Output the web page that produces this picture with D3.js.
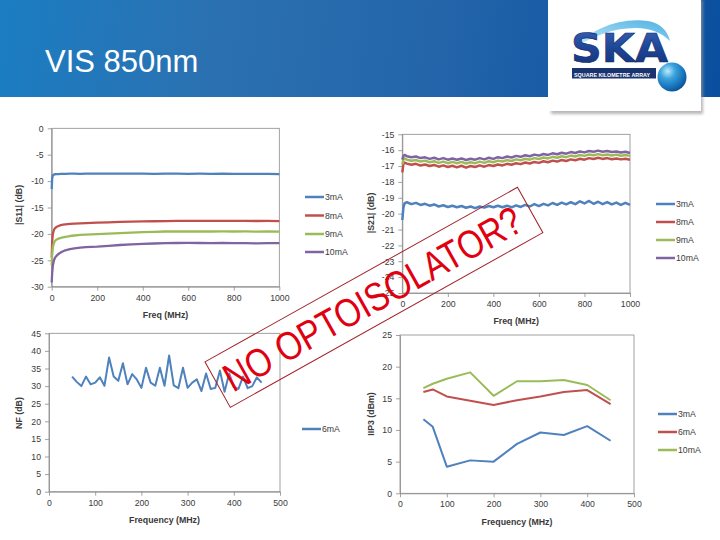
<!DOCTYPE html>
<html><head><meta charset="utf-8">
<script src="https://cdn.jsdelivr.net/npm/d3@7"></script>
<style>body{margin:0;background:#fff}svg{display:block}</style>
</head><body>
<svg id="c" width="720" height="540"></svg>
<script>
// ---------------- DATA ----------------
const TITLE = "VIS 850nm";
const STAMP = "NO OPTOISOLATOR?";

const S_SERIES_NAMES = ["3mA", "8mA", "9mA", "10mA"];
const NF_SERIES_NAMES = ["6mA"];
const IIP3_SERIES_NAMES = ["3mA", "6mA", "10mA"];

const S11_X_TICKS = [0, 200, 400, 600, 800, 1000];
const S11_Y_TICKS = [0, -5, -10, -15, -20, -25, -30];
const S21_X_TICKS = [0, 200, 400, 600, 800, 1000];
const S21_Y_TICKS = [-15, -16, -17, -18, -19, -20, -21, -22, -23, -24, -25];
const NF_X_TICKS = [0, 100, 200, 300, 400, 500];
const NF_Y_TICKS = [0, 5, 10, 15, 20, 25, 30, 35, 40, 45];
const IIP3_X_TICKS = [0, 100, 200, 300, 400, 500];
const IIP3_Y_TICKS = [0, 5, 10, 15, 20, 25];

const S11_FREQ = [0,2,5,10,15,20,30,40,50,60,80,100,125,150,175,200,250,300,350,400,450,500,550,600,650,700,750,800,850,900,950,1000];
const S11_3mA = [-11.5,-9.5,-8.9,-8.75,-8.7,-8.68,-8.66,-8.64,-8.63,-8.62,-8.6,-8.6,-8.62,-8.58,-8.6,-8.6,-8.58,-8.6,-8.59,-8.6,-8.62,-8.6,-8.6,-8.62,-8.6,-8.62,-8.61,-8.63,-8.62,-8.64,-8.63,-8.66];
const S11_8mA = [-24.5,-21.5,-20.0,-19.2,-18.9,-18.7,-18.5,-18.35,-18.25,-18.2,-18.1,-18.05,-18.0,-17.95,-17.92,-17.88,-17.8,-17.72,-17.68,-17.62,-17.6,-17.57,-17.55,-17.55,-17.54,-17.55,-17.53,-17.55,-17.54,-17.56,-17.55,-17.57];
const S11_9mA = [-26.0,-24.0,-22.5,-21.7,-21.3,-21.1,-20.9,-20.75,-20.65,-20.55,-20.4,-20.3,-20.2,-20.15,-20.1,-20.05,-19.95,-19.85,-19.75,-19.65,-19.6,-19.55,-19.55,-19.55,-19.52,-19.55,-19.53,-19.55,-19.54,-19.57,-19.55,-19.58];
const S11_10mA = [-29.2,-27.5,-26.0,-25.0,-24.5,-24.2,-23.8,-23.5,-23.3,-23.1,-22.9,-22.75,-22.6,-22.5,-22.45,-22.4,-22.25,-22.1,-22.0,-21.9,-21.82,-21.75,-21.72,-21.7,-21.72,-21.75,-21.72,-21.75,-21.73,-21.78,-21.75,-21.75];

const S21_FREQ = [0,5,10,20,40,60,80,100,120,140,160,180,200,220,240,260,280,300,320,340,360,380,400,420,440,460,480,500,520,540,560,580,600,620,640,660,680,700,720,740,760,780,800,820,840,860,880,900,920,940,960,980,1000];
const S21_3mA = [-20.4,-19.6,-19.35,-19.28,-19.40,-19.32,-19.45,-19.38,-19.50,-19.42,-19.55,-19.47,-19.58,-19.50,-19.60,-19.52,-19.63,-19.55,-19.65,-19.55,-19.62,-19.52,-19.60,-19.50,-19.60,-19.50,-19.60,-19.48,-19.58,-19.45,-19.55,-19.40,-19.52,-19.38,-19.48,-19.33,-19.45,-19.30,-19.42,-19.28,-19.40,-19.22,-19.36,-19.20,-19.38,-19.25,-19.40,-19.27,-19.42,-19.30,-19.45,-19.32,-19.45];
const S21_8mA = [-17.4,-16.85,-16.78,-16.85,-16.92,-16.86,-16.97,-16.90,-17.00,-16.93,-17.04,-16.96,-17.06,-16.98,-17.08,-16.98,-17.10,-17.00,-17.06,-16.96,-17.04,-16.94,-17.00,-16.90,-16.96,-16.86,-16.92,-16.82,-16.88,-16.78,-16.84,-16.74,-16.80,-16.70,-16.76,-16.66,-16.72,-16.62,-16.68,-16.58,-16.64,-16.54,-16.60,-16.50,-16.56,-16.48,-16.55,-16.50,-16.57,-16.52,-16.58,-16.54,-16.60];
const S21_9mA = [-16.9,-16.6,-16.52,-16.60,-16.67,-16.62,-16.72,-16.66,-16.76,-16.70,-16.80,-16.72,-16.82,-16.74,-16.82,-16.74,-16.84,-16.76,-16.82,-16.72,-16.80,-16.70,-16.76,-16.66,-16.72,-16.62,-16.68,-16.58,-16.64,-16.54,-16.60,-16.50,-16.56,-16.46,-16.52,-16.42,-16.48,-16.38,-16.44,-16.34,-16.40,-16.30,-16.36,-16.27,-16.32,-16.25,-16.32,-16.27,-16.34,-16.28,-16.35,-16.30,-16.36];
const S21_10mA = [-16.6,-16.35,-16.3,-16.38,-16.45,-16.40,-16.50,-16.45,-16.55,-16.48,-16.58,-16.50,-16.60,-16.52,-16.60,-16.52,-16.62,-16.54,-16.60,-16.50,-16.58,-16.48,-16.55,-16.44,-16.50,-16.40,-16.46,-16.36,-16.42,-16.32,-16.38,-16.28,-16.34,-16.24,-16.30,-16.20,-16.26,-16.16,-16.22,-16.12,-16.18,-16.08,-16.14,-16.05,-16.10,-16.03,-16.10,-16.05,-16.12,-16.08,-16.15,-16.10,-16.18];

const NF_FREQ = [50,60,70,80,90,100,110,120,130,140,150,160,170,180,190,200,210,220,230,240,250,260,270,280,290,300,310,320,330,340,350,360,370,380,390,400,410,420,430,440,450,460];
const NF_6mA = [32.7,31.2,30.0,32.7,30.5,31.0,32.5,30.1,38.1,32.7,31.5,36.5,30.5,33.4,31.9,29.5,35.2,31.0,30.1,35.2,30.1,38.7,30.2,29.4,35.2,29.5,31.0,31.9,28.6,33.6,29.2,29.5,34.4,28.4,33.6,29.8,29.2,32.7,29.4,30.0,32.5,31.0];

const IIP3_FREQ = [50,70,100,150,200,250,300,350,400,450];
const IIP3_3mA = [11.7,10.5,4.2,5.2,5.0,7.8,9.6,9.2,10.6,8.3];
const IIP3_6mA = [16.0,16.4,15.3,14.6,13.95,14.7,15.3,16.0,16.3,14.1];
const IIP3_10mA = [16.6,17.3,18.1,19.1,15.4,17.7,17.7,17.9,17.1,14.7];

// ---------------- STYLE ----------------
const C_BLUE = "#4f81bd", C_RED = "#c0504d", C_GREEN = "#9bbb59", C_PURPLE = "#8064a2";
const FONT = "'Liberation Sans', Arial, sans-serif";
const TXT = "#3a3a3a", AXIS = "#8a8a8a";

const svg = d3.select("#c");
const defs = svg.append("defs");

const hg = defs.append("linearGradient").attr("id", "hdr")
  .attr("gradientUnits", "userSpaceOnUse").attr("x1", 0).attr("y1", 0).attr("x2", 720).attr("y2", 97);
[["0", "#1b7dc2"], ["0.3", "#2b71b1"], ["0.6", "#2465aa"], ["1", "#0a4f9f"]]
  .forEach(([o, c]) => hg.append("stop").attr("offset", o).attr("stop-color", c));
const sg = defs.append("radialGradient").attr("id", "sph").attr("cx", "0.35").attr("cy", "0.3").attr("r", "0.75");
[["0", "#bfe9fb"], ["0.35", "#3aa3dc"], ["0.8", "#136cb5"], ["1", "#0d4f8e"]]
  .forEach(([o, c]) => sg.append("stop").attr("offset", o).attr("stop-color", c));
const skag = defs.append("linearGradient").attr("id", "ska").attr("x1", 0).attr("y1", 0).attr("x2", 0).attr("y2", 1);
[["0", "#3b66b8"], ["0.5", "#1e4596"], ["1", "#142f73"]]
  .forEach(([o, c]) => skag.append("stop").attr("offset", o).attr("stop-color", c));
const swg = defs.append("linearGradient").attr("id", "swoosh").attr("x1", 0).attr("y1", 1).attr("x2", 1).attr("y2", 0);
[["0", "#d9f1fb"], ["0.5", "#8dd0ef"], ["1", "#4fb0e2"]]
  .forEach(([o, c]) => swg.append("stop").attr("offset", o).attr("stop-color", c));
const blur = defs.append("filter").attr("id", "shadow").attr("x", "-10%").attr("y", "-10%").attr("width", "130%").attr("height", "130%");
blur.append("feGaussianBlur").attr("stdDeviation", 1.5);

// header
svg.append("rect").attr("x", 0).attr("y", 0).attr("width", 720).attr("height", 97).attr("fill", "url(#hdr)");
svg.append("text").attr("x", 45).attr("y", 72).attr("fill", "#fff")
  .attr("font-family", FONT).attr("font-size", 31).text(TITLE);

// logo box
svg.append("rect").attr("x", 551).attr("y", 0).attr("width", 152).attr("height", 114)
  .attr("fill", "#9a9a9a").attr("opacity", 0.7).attr("filter", "url(#shadow)");
svg.append("rect").attr("x", 548).attr("y", 0).attr("width", 153).attr("height", 111).attr("fill", "#fff");
const logo = svg.append("g");
logo.append("path").attr("d", "M572,50 C590,29 620,17 648,21 C660,23 668,31 670,41 C662,33 650,28 636,28 C612,28 590,37 572,50 Z")
  .attr("fill", "url(#swoosh)");
logo.append("text").attr("transform", "translate(571,62) scale(1,1.2)")
  .attr("font-family", "'DejaVu Sans', sans-serif")
  .attr("font-weight", "bold").attr("font-size", 33).attr("textLength", 97).attr("lengthAdjust", "spacingAndGlyphs")
  .attr("fill", "url(#ska)").attr("stroke", "#0f2a66").attr("stroke-width", 0.5).text("SKA");
logo.append("rect").attr("x", 572).attr("y", 68).attr("width", 84).attr("height", 10.5).attr("fill", "#1b3470");
logo.append("text").attr("x", 574).attr("y", 77).attr("font-family", FONT).attr("font-weight", "bold")
  .attr("font-size", 5.5).attr("textLength", 76).attr("lengthAdjust", "spacingAndGlyphs").attr("fill", "#fff")
  .text("SQUARE KILOMETRE ARRAY");
logo.append("circle").attr("cx", 672).attr("cy", 77).attr("r", 14.5).attr("fill", "url(#sph)");

// ---------------- CHART BUILDER ----------------
function chart(cfg) {
  const x = d3.scaleLinear().domain(cfg.xDomain).range([cfg.left, cfg.right]);
  const y = d3.scaleLinear().domain(cfg.yDomain).range([cfg.bottom, cfg.top]);
  const g = svg.append("g");
  g.append("rect").attr("x", cfg.left).attr("y", cfg.top)
    .attr("width", cfg.right - cfg.left).attr("height", cfg.bottom - cfg.top)
    .attr("fill", "none").attr("stroke", AXIS).attr("stroke-width", 0.8);
  const ax = g.append("g").attr("transform", `translate(0,${cfg.bottom})`)
    .call(d3.axisBottom(x).tickValues(cfg.xTicks).tickFormat(d => String(d)).tickSize(4).tickSizeOuter(0).tickPadding(4));
  const ay = g.append("g").attr("transform", `translate(${cfg.left},0)`)
    .call(d3.axisLeft(y).tickValues(cfg.yTicks).tickFormat(d => String(d)).tickSize(4).tickSizeOuter(0).tickPadding(4));
  [ax, ay].forEach(a => {
    a.selectAll("path,line").attr("stroke", AXIS).attr("stroke-width", 0.8);
    a.selectAll("text").attr("fill", TXT).attr("font-family", FONT).attr("font-size", 8.7);
  });
  const line = d3.line().x(d => x(d[0])).y(d => y(d[1])).curve(d3.curveLinear);
  cfg.series.forEach(s => {
    g.append("path").datum(s.x.map((v, i) => [v, s.y[i]]))
      .attr("d", line).attr("fill", "none").attr("stroke", s.color)
      .attr("stroke-width", cfg.lw).attr("stroke-linejoin", "round");
  });
  g.append("text").attr("x", (cfg.left + cfg.right) / 2).attr("y", cfg.xTitleY)
    .attr("text-anchor", "middle").attr("font-family", FONT).attr("font-weight", "bold")
    .attr("font-size", 8.8).attr("fill", TXT).text(cfg.xTitle);
  g.append("text").attr("transform", `translate(${cfg.yTitleX},${cfg.yTitleCY}) rotate(-90)`)
    .attr("text-anchor", "middle").attr("font-family", FONT).attr("font-weight", "bold")
    .attr("font-size", 8.8).attr("fill", TXT).text(cfg.yTitle);
  cfg.series.forEach((s, i) => {
    const ly = cfg.legY[i];
    g.append("line").attr("x1", cfg.legX).attr("x2", cfg.legX + 19).attr("y1", ly).attr("y2", ly)
      .attr("stroke", s.color).attr("stroke-width", 2.5);
    g.append("text").attr("x", cfg.legX + 20).attr("y", ly + 3).attr("font-family", FONT)
      .attr("font-size", 8.7).attr("fill", TXT).text(s.name);
  });
}

chart({
  left: 51.7, right: 279.3, top: 128.3, bottom: 286.7,
  xDomain: [0, 1000], yDomain: [-30, 0], xTicks: S11_X_TICKS, yTicks: S11_Y_TICKS,
  xTitle: "Freq (MHz)", xTitleY: 318, yTitle: "|S11| (dB)", yTitleX: 22, yTitleCY: 205, lw: 2.3,
  legX: 305, legY: [197, 215.5, 234, 252],
  series: [
    { name: S_SERIES_NAMES[0], x: S11_FREQ, y: S11_3mA, color: C_BLUE },
    { name: S_SERIES_NAMES[1], x: S11_FREQ, y: S11_8mA, color: C_RED },
    { name: S_SERIES_NAMES[2], x: S11_FREQ, y: S11_9mA, color: C_GREEN },
    { name: S_SERIES_NAMES[3], x: S11_FREQ, y: S11_10mA, color: C_PURPLE }
  ]
});

chart({
  left: 402.3, right: 630, top: 134.3, bottom: 293,
  xDomain: [0, 1000], yDomain: [-25, -15], xTicks: S21_X_TICKS, yTicks: S21_Y_TICKS,
  xTitle: "Freq (MHz)", xTitleY: 324, yTitle: "|S21| (dB)", yTitleX: 374, yTitleCY: 213, lw: 2.5,
  legX: 656, legY: [204, 222, 240, 258],
  series: [
    { name: S_SERIES_NAMES[0], x: S21_FREQ, y: S21_3mA, color: C_BLUE },
    { name: S_SERIES_NAMES[1], x: S21_FREQ, y: S21_8mA, color: C_RED },
    { name: S_SERIES_NAMES[2], x: S21_FREQ, y: S21_9mA, color: C_GREEN },
    { name: S_SERIES_NAMES[3], x: S21_FREQ, y: S21_10mA, color: C_PURPLE }
  ]
});

chart({
  left: 49, right: 280, top: 333.3, bottom: 491.7,
  xDomain: [0, 500], yDomain: [0, 45], xTicks: NF_X_TICKS, yTicks: NF_Y_TICKS,
  xTitle: "Frequency (MHz)", xTitleY: 523, yTitle: "NF (dB)", yTitleX: 22, yTitleCY: 413, lw: 2,
  legX: 302, legY: [429],
  series: [
    { name: NF_SERIES_NAMES[0], x: NF_FREQ, y: NF_6mA, color: C_BLUE }
  ]
});

chart({
  left: 400, right: 634, top: 335, bottom: 493.3,
  xDomain: [0, 500], yDomain: [0, 25], xTicks: IIP3_X_TICKS, yTicks: IIP3_Y_TICKS,
  xTitle: "Frequency (MHz)", xTitleY: 525, yTitle: "IIP3 (dBm)", yTitleX: 374, yTitleCY: 414, lw: 2,
  legX: 658, legY: [414, 432, 450],
  series: [
    { name: IIP3_SERIES_NAMES[0], x: IIP3_FREQ, y: IIP3_3mA, color: C_BLUE },
    { name: IIP3_SERIES_NAMES[1], x: IIP3_FREQ, y: IIP3_6mA, color: C_RED },
    { name: IIP3_SERIES_NAMES[2], x: IIP3_FREQ, y: IIP3_10mA, color: C_GREEN }
  ]
});

// ---------------- STAMP ----------------
const stamp = svg.append("g").attr("transform", "translate(373.9,297.3) rotate(-29.2)");
stamp.append("rect").attr("x", -179).attr("y", -26).attr("width", 358).attr("height", 52)
  .attr("fill", "none").attr("stroke", "#a3232a").attr("stroke-width", 1);
stamp.append("text").attr("x", -2).attr("y", 14.5).attr("text-anchor", "middle")
  .attr("font-family", FONT).attr("font-size", 40).attr("fill", "#e00010")
  .attr("textLength", 335).attr("lengthAdjust", "spacingAndGlyphs").text(STAMP);
</script>
</body></html>
